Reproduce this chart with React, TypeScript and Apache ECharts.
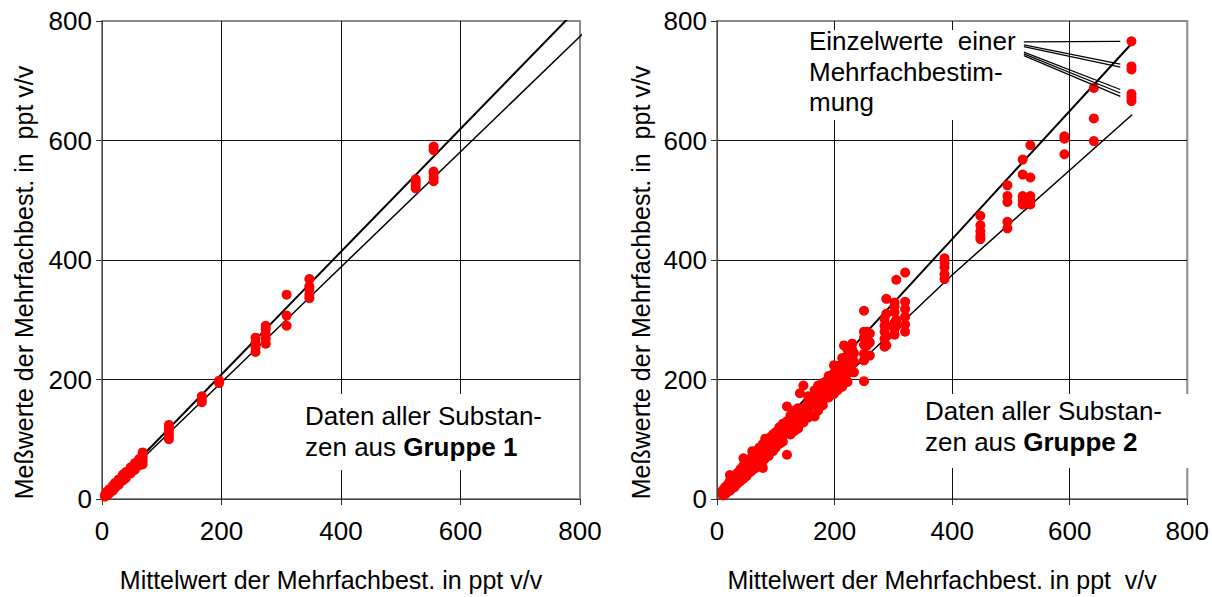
import React, { useEffect, useRef } from "react";
import * as echarts from "echarts";

// Group 1: mean of the replicate determination (x) and its single values (y)
const G1_MEANS = [5, 8, 12, 18, 22, 28, 35, 40, 48, 55, 62, 68, 112, 167, 196, 257, 274, 309, 347, 525, 555];
const G1_VALUES = [
  [4, 7],
  [6, 10, 12],
  [9, 13, 16],
  [14, 18, 22],
  [19, 23, 27],
  [24, 29, 33],
  [31, 36, 41],
  [35, 41, 45],
  [43, 49, 53],
  [49, 55, 60],
  [56, 62, 67],
  [58, 64, 70, 74, 78],
  [100, 106, 112, 118, 124],
  [162, 166, 172],
  [194, 198],
  [246, 254, 262, 270],
  [260, 268, 276, 284, 290],
  [290, 307, 342],
  [336, 342, 350, 356, 368],
  [520, 525, 530, 535],
  [532, 538, 545, 548, 584, 590],
];

// Group 2
const G2_MEANS = [
  10, 14, 18, 22, 26, 30, 35, 40, 45, 50, 55, 60, 66, 72, 78, 82, 88, 95, 100, 106, 112, 119, 125, 132,
  138, 141, 147, 155, 166, 172, 180, 183, 190, 199, 205, 213, 216, 222, 230, 233, 250, 255, 260, 285,
  288, 302, 305, 320, 387, 448, 494, 520, 533, 591, 641, 705,
];
const G2_VALUES = [
  [6, 10, 13, 15],
  [8, 12, 18, 20],
  [12, 16, 22, 24],
  [14, 20, 26, 30, 40],
  [18, 24, 30, 34],
  [20, 28, 34, 38],
  [26, 32, 38, 44],
  [30, 36, 44, 50],
  [34, 42, 50, 56, 68],
  [38, 46, 54, 62],
  [44, 52, 58, 66],
  [48, 56, 64, 72, 80],
  [52, 60, 70, 80],
  [58, 66, 76, 86],
  [52, 64, 74, 84, 92],
  [68, 78, 88, 101],
  [72, 84, 94, 102],
  [80, 90, 100, 108],
  [86, 96, 104, 112],
  [92, 102, 110, 120],
  [96, 106, 118, 126],
  [74, 112, 124, 130, 155],
  [108, 118, 132, 140],
  [114, 126, 138, 148],
  [118, 132, 144, 152],
  [130, 146, 177],
  [128, 140, 152, 190],
  [136, 148, 162, 172],
  [138, 158, 170, 182],
  [148, 164, 178, 190],
  [157, 172, 186, 194],
  [168, 180, 193],
  [170, 184, 196, 206],
  [176, 192, 210, 224],
  [182, 198, 214, 222],
  [188, 206, 220, 236],
  [200, 214, 230, 257],
  [196, 210, 226, 240, 250],
  [213, 226, 240, 250, 260],
  [212, 230, 244],
  [197, 232, 243, 258, 270, 280, 315],
  [240, 257, 268, 280],
  [240, 262, 277],
  [255, 268, 280, 290, 301],
  [257, 272, 290, 310, 335],
  [275, 285, 295, 313, 322, 329],
  [290, 300, 367],
  [280, 292, 305, 318, 330, 379],
  [368, 376, 388, 395, 403],
  [435, 440, 448, 458, 474],
  [453, 464, 497, 507, 525],
  [493, 500, 507, 543, 568],
  [493, 500, 507, 538, 592],
  [577, 603, 607],
  [599, 637, 688],
  [666, 672, 678, 719, 724, 766],
];

// Bounding lines of each panel
const G1_UPPER = [[5, 8], [800, 825]];
const G1_LOWER = [[5, 7], [808, 782]];
const G2_UPPER = [[12, 20], [400, 435], [705, 762]];
const G2_LOWER = [[12, 12], [400, 375], [706, 643]];

// Leader lines from the annotation towards the replicates at the highest mean
const LEADER_MEAN = 705;
const LEADER_ANCHORS = [765, 760, 757, 748, 745, 742];
const LEADER_START_X = 522;
const LEADER_STOP_X = 686;

const TICKS = ["0", "200", "400", "600", "800"];

const FONT = "'Liberation Sans', Arial, sans-serif";

function toPoints(means: number[], values: number[][]) {
  const out: number[][] = [];
  means.forEach((m, i) => values[i].forEach((v) => out.push([m, v])));
  return out;
}

function axisPair(gridIndex: number, yName: string, xName: string, yGap: number) {
  const common = {
    gridIndex,
    type: "value" as const,
    min: 0,
    max: 800,
    interval: 200,
    axisLine: { show: true, lineStyle: { color: "#444", width: 1 } },
    axisTick: { show: true, inside: false, length: 6, lineStyle: { color: "#333" } },
    splitLine: {
      show: true,
      lineStyle: { color: ["#111", "#111", "#111", "#111", "#8a8a8a"], width: 1 },
    },
  };
  return {
    x: {
      ...common,
      name: xName,
      nameLocation: "middle" as const,
      nameGap: 68,
      nameTextStyle: { fontFamily: FONT, fontSize: 25, color: "#000", padding: [0, 20, 0, 0] },
      axisLabel: {
        fontFamily: FONT,
        fontSize: 26,
        color: "#000",
        margin: 19,
        formatter: (v: number) => TICKS[v / 200],
      },
    },
    y: {
      ...common,
      name: yName,
      nameLocation: "middle" as const,
      nameGap: yGap,
      nameTextStyle: { fontFamily: FONT, fontSize: 25, color: "#000", padding: [0, 45, 0, 0] },
      axisLabel: {
        fontFamily: FONT,
        fontSize: 26,
        color: "#000",
        margin: 10,
        formatter: (v: number) => TICKS[v / 200],
      },
    },
  };
}

export default function App() {
  const ref = useRef<HTMLDivElement>(null);

  useEffect(() => {
    if (!ref.current) return;
    const chart = echarts.init(ref.current, undefined, { renderer: "svg" });

    const a1 = axisPair(0, "Meßwerte der Mehrfachbest. in  ppt v/v", "Mittelwert der Mehrfachbest. in ppt v/v", 66);
    const a2 = axisPair(1, "Meßwerte der Mehrfachbest. in  ppt v/v", "Mittelwert der Mehrfachbest. in ppt  v/v", 64);

    const dot = { color: "#ff0000", opacity: 1 };
    const leaderValues = [...G2_VALUES[G2_MEANS.indexOf(LEADER_MEAN)]].sort((p, q) => q - p);
    const t = (LEADER_STOP_X - LEADER_START_X) / (LEADER_MEAN - LEADER_START_X);
    const leaders = leaderValues.map((v, i) => {
      const y0 = LEADER_ANCHORS[i];
      return { coords: [[LEADER_START_X, y0], [LEADER_STOP_X, y0 + (v - y0) * t]] };
    });

    const textStyle = { fontFamily: FONT, fontSize: 26, fill: "#000" };
    const bold = { fontFamily: FONT, fontSize: 26, fontWeight: "bold", fill: "#000", lineHeight: 31 };

    chart.setOption({
      animation: false,
      grid: [
        { left: 102, top: 21, width: 478, height: 480, show: true, borderColor: "#8a8a8a", borderWidth: 2, backgroundColor: "#fff" },
        { left: 717, top: 21, width: 480, height: 480, show: true, borderColor: "#8a8a8a", borderWidth: 2, backgroundColor: "#fff" },
      ],
      xAxis: [a1.x, a2.x],
      yAxis: [a1.y, a2.y],
      series: [
        { type: "line", xAxisIndex: 0, yAxisIndex: 0, data: G1_UPPER, symbol: "none", lineStyle: { color: "#000", width: 2 }, z: 3 },
        { type: "line", xAxisIndex: 0, yAxisIndex: 0, data: G1_LOWER, symbol: "none", clip: false, lineStyle: { color: "#000", width: 1.5 }, z: 3 },
        { type: "scatter", xAxisIndex: 0, yAxisIndex: 0, data: toPoints(G1_MEANS, G1_VALUES), symbolSize: 10, itemStyle: dot, z: 4 },
        { type: "line", xAxisIndex: 1, yAxisIndex: 1, data: G2_UPPER, symbol: "none", lineStyle: { color: "#000", width: 2 }, z: 3 },
        { type: "line", xAxisIndex: 1, yAxisIndex: 1, data: G2_LOWER, symbol: "none", lineStyle: { color: "#000", width: 1.5 }, z: 3 },
        { type: "scatter", xAxisIndex: 1, yAxisIndex: 1, data: toPoints(G2_MEANS, G2_VALUES), symbolSize: 10, itemStyle: dot, z: 4 },
        {
          type: "lines",
          coordinateSystem: "cartesian2d",
          xAxisIndex: 1,
          yAxisIndex: 1,
          data: leaders,
          lineStyle: { color: "#000", width: 1.2, opacity: 1 },
          z: 5,
        },
      ],
      graphic: [
        { type: "rect", z: 1, shape: { x: 300, y: 394, width: 272, height: 76 }, style: { fill: "#fff" } },
        {
          type: "text",
          z: 2,
          x: 305,
          y: 400,
          style: {
            ...textStyle,
            text: "Daten aller Substan-\nzen aus {b|Gruppe 1}",
            lineHeight: 31,
            rich: { b: bold },
          },
        },
        { type: "rect", z: 1, shape: { x: 915, y: 394, width: 278, height: 74 }, style: { fill: "#fff" } },
        {
          type: "text",
          z: 2,
          x: 925,
          y: 395,
          style: {
            ...textStyle,
            text: "Daten aller Substan-\nzen aus {b|Gruppe 2}",
            lineHeight: 31,
            rich: { b: bold },
          },
        },
        { type: "rect", z: 1, shape: { x: 805, y: 30, width: 223, height: 90 }, style: { fill: "#fff" } },
        {
          type: "text",
          z: 2,
          x: 809,
          y: 26,
          style: {
            ...textStyle,
            lineHeight: 30.5,
            text: "Einzelwerte  einer\nMehrfachbestim-\nmung",
          },
        },
      ],
    });

    return () => chart.dispose();
  }, []);

  return <div ref={ref} style={{ position: "absolute", left: 0, top: 0, width: 1212, height: 597 }} />;
}
